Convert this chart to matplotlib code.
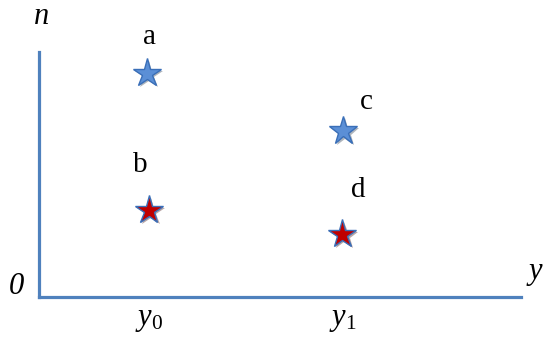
import matplotlib.pyplot as plt
import matplotlib.patheffects as pe

plt.rcParams["font.family"] = "Liberation Serif"
plt.rcParams["mathtext.fontset"] = "custom"
plt.rcParams["mathtext.rm"] = "Liberation Serif"
plt.rcParams["mathtext.it"] = "Liberation Serif:italic"

# points in axis units (origin at the corner of the axes)
labels = ["a", "b", "c", "d"]
xs = [0.224, 0.228, 0.631, 0.629]
ys = [0.914, 0.355, 0.678, 0.257]
colors = ["#5b8fd6", "#c00000", "#5b8fd6", "#c00000"]
tick_pos = [0.228, 0.631]
tick_labels = [r"$y_{\mathit{0}}$", r"$y_{\mathit{1}}$"]
label_offsets = [(3, 36), (-9, 45), (23, 29), (16, 44)]

blue = "#4f81bd"

fig = plt.figure(figsize=(5.44, 3.38), dpi=100)
ax = fig.add_axes([39 / 544, 41 / 338, 482 / 544, 245 / 338])
ax.set_xlim(0, 1)
ax.set_ylim(0, 1)
for s in ["top", "right"]:
    ax.spines[s].set_visible(False)
for s in ["left", "bottom"]:
    ax.spines[s].set_color(blue)
    ax.spines[s].set_linewidth(2.3)
ax.set_yticks([])
ax.set_xticks(tick_pos)
ax.set_xticklabels(tick_labels, fontsize=22)
ax.tick_params(axis="x", length=0, pad=6)

shadow = [pe.SimplePatchShadow(offset=(1.5, -1.5), alpha=0.35), pe.Normal()]
for x, y, c, lab, off in zip(xs, ys, colors, labels, label_offsets):
    ax.plot(x, y, marker="*", markersize=21, color=c, markeredgecolor="#3a6fb8",
            markeredgewidth=1.0, clip_on=False, path_effects=shadow)
    ax.annotate(lab, (x, y), xytext=off, textcoords="offset pixels",
                ha="center", va="center", fontsize=21)

fig.text(42 / 544, 1 - 16 / 338, "n", fontsize=22, style="italic", ha="center", va="center")
fig.text(535 / 544, 1 - 272 / 338, "y", fontsize=22, style="italic", ha="center", va="center")
fig.text(16 / 544, 1 - 286 / 338, "0", fontsize=22, style="italic", ha="center", va="center")

fig.savefig("out.png", dpi=100)
